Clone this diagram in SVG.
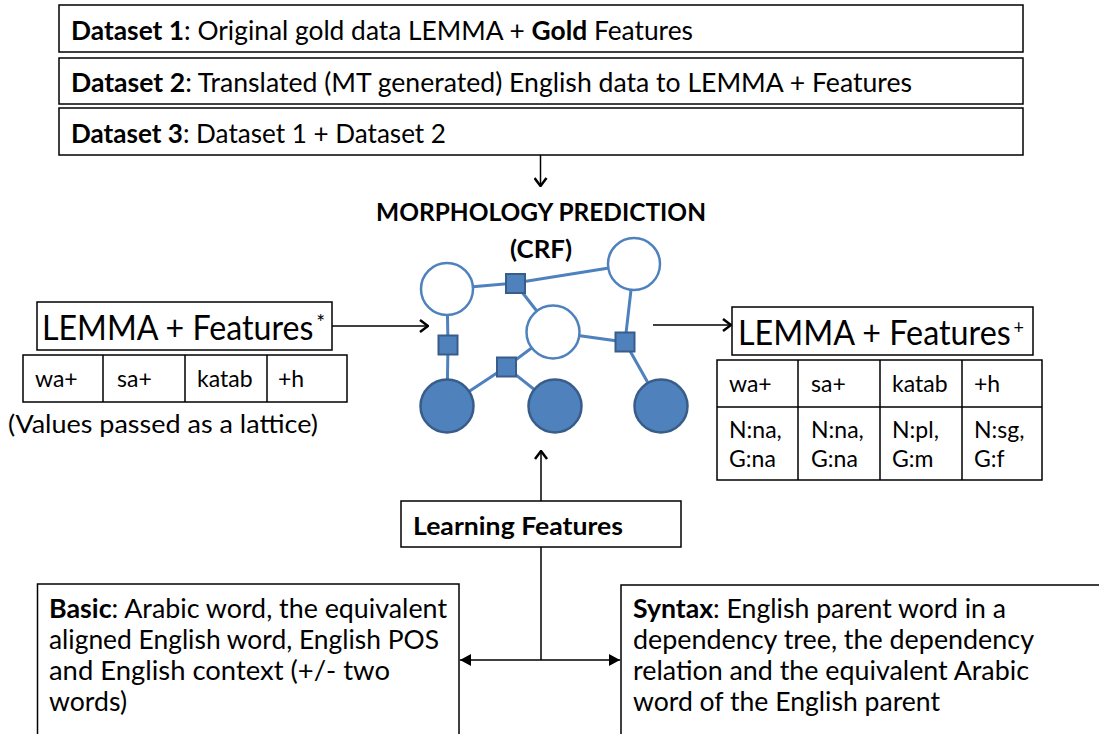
<svg xmlns="http://www.w3.org/2000/svg" width="1099" height="734" viewBox="0 0 1099 734">
<style>
.t{font-family:Lato,"Open Sans","Liberation Sans",sans-serif;fill:#000}
.b{font-weight:bold}
.box{fill:#fff;stroke:#000;stroke-width:1.5}
.ln{stroke:#000;stroke-width:1.5;fill:none}
.edge{stroke:#4F81BD;stroke-width:3;fill:none}
.open{fill:#fff;stroke:#4F81BD;stroke-width:2.5}
.full{fill:#4F81BD;stroke:#385D8A;stroke-width:2.5}
.fac{fill:#4F81BD;stroke:#385D8A;stroke-width:2}
.conn{stroke:#000;stroke-width:1.5;fill:none}
</style>
<defs>
<marker id="open" viewBox="0 0 10 14" refX="9" refY="7" markerWidth="10" markerHeight="14" markerUnits="userSpaceOnUse" orient="auto">
<path d="M1,1 L9,7 L1,13" fill="none" stroke="#000" stroke-width="2.5"/>
</marker>
<marker id="tri" viewBox="0 0 11 12" refX="11" refY="6" markerWidth="11" markerHeight="12" markerUnits="userSpaceOnUse" orient="auto">
<path d="M0,0 L11,6 L0,12 z" fill="#000"/>
</marker>
</defs>
<rect width="1099" height="734" fill="#fff"/>

<g id="dataset1">
<rect class="box" x="59" y="5" width="964" height="47"/>
<text class="t" x="71" y="40" font-size="26.5" textLength="622" lengthAdjust="spacingAndGlyphs"><tspan class="b">Dataset 1</tspan>: Original gold data LEMMA + <tspan class="b">Gold</tspan> Features</text>
</g>
<g id="dataset2">
<rect class="box" x="59" y="58" width="964" height="46"/>
<text class="t" x="71" y="92" font-size="26.5" textLength="841" lengthAdjust="spacingAndGlyphs"><tspan class="b">Dataset 2</tspan>: Translated (MT generated) English data to LEMMA + Features</text>
</g>
<g id="dataset3">
<rect class="box" x="59" y="108" width="964" height="47"/>
<text class="t" x="71" y="143" font-size="26.5" textLength="375" lengthAdjust="spacingAndGlyphs"><tspan class="b">Dataset 3</tspan>: Dataset 1 + Dataset 2</text>
</g>

<g id="crf">
<text class="t b" x="541" y="221" font-size="25" text-anchor="middle" textLength="330" lengthAdjust="spacingAndGlyphs">MORPHOLOGY PREDICTION</text>
<text class="t b" x="541" y="258" font-size="25" text-anchor="middle" textLength="62" lengthAdjust="spacingAndGlyphs">(CRF)</text>
<g id="crf-edges">
<path class="edge" d="M447,289 L515,283 L634,264"/>
<path class="edge" d="M515,283 L553,332"/>
<path class="edge" d="M447,289 L448,345 L447,406"/>
<path class="edge" d="M447,406 L506,367 L553,332"/>
<path class="edge" d="M506,367 L555,406"/>
<path class="edge" d="M553,332 L625,342 L634,264"/>
<path class="edge" d="M625,342 L661,406"/>
</g>
<circle class="open" cx="447" cy="289" r="26"/>
<circle class="open" cx="634" cy="264" r="26"/>
<circle class="open" cx="553" cy="332" r="26.5"/>
<circle class="full" cx="447" cy="406" r="26.5"/>
<circle class="full" cx="555" cy="406" r="26.5"/>
<circle class="full" cx="661" cy="406" r="26.5"/>
<rect class="fac" x="506" y="274" width="19" height="19"/>
<rect class="fac" x="438.5" y="335.5" width="19" height="19"/>
<rect class="fac" x="497" y="357.5" width="19" height="19"/>
<rect class="fac" x="615.5" y="332.5" width="19" height="19"/>
</g>

<g id="input-lemma">
<rect class="box" x="37" y="302" width="295" height="48"/>
<text class="t" x="42" y="340" font-size="34" textLength="283" lengthAdjust="spacingAndGlyphs">LEMMA + Features<tspan font-size="22" dx="3" dy="-10">*</tspan></text>
</g>
<g id="input-table">
<rect class="box" x="23" y="355" width="324" height="47"/>
<path class="ln" d="M103,355 V402 M185,355 V402 M267,355 V402"/>
<text class="t" font-size="23" y="387"><tspan x="35">wa+</tspan><tspan x="117">sa+</tspan><tspan x="197">katab</tspan><tspan x="278">+h</tspan></text>
<text class="t" x="8" y="433" font-size="25" textLength="310" lengthAdjust="spacingAndGlyphs">(Values passed as a lattice)</text>
</g>

<g id="output-lemma">
<rect class="box" x="732" y="307" width="301" height="48"/>
<text class="t" x="738" y="345" font-size="34" textLength="286" lengthAdjust="spacingAndGlyphs">LEMMA + Features<tspan font-size="19" dx="3" dy="-11">+</tspan></text>
</g>
<g id="output-table">
<rect class="box" x="717" y="360" width="325" height="120"/>
<path class="ln" d="M717,407 H1042 M798,360 V480 M880,360 V480 M962,360 V480"/>
<text class="t" font-size="23" y="392"><tspan x="729">wa+</tspan><tspan x="811">sa+</tspan><tspan x="892">katab</tspan><tspan x="974">+h</tspan></text>
<text class="t" font-size="23" y="438"><tspan x="729">N:na,</tspan><tspan x="811">N:na,</tspan><tspan x="892">N:pl,</tspan><tspan x="974">N:sg,</tspan></text>
<text class="t" font-size="23" y="467"><tspan x="729">G:na</tspan><tspan x="811">G:na</tspan><tspan x="892">G:m</tspan><tspan x="974">G:f</tspan></text>
</g>

<g id="learning-features">
<rect class="box" x="401" y="501" width="280" height="46"/>
<text class="t b" x="413" y="535" font-size="24" textLength="210" lengthAdjust="spacingAndGlyphs">Learning Features</text>
</g>

<g id="basic">
<rect class="box" x="37.5" y="584" width="421.5" height="200"/>
<text class="t" x="49" y="618" font-size="26.5" textLength="398" lengthAdjust="spacingAndGlyphs"><tspan class="b">Basic</tspan>: Arabic word, the equivalent</text>
<text class="t" x="49" y="649" font-size="26.5" textLength="390" lengthAdjust="spacingAndGlyphs">aligned English word, English POS</text>
<text class="t" x="49" y="680" font-size="26.5" textLength="341" lengthAdjust="spacingAndGlyphs">and English context (+/- two</text>
<text class="t" x="49" y="711" font-size="26.5" textLength="78" lengthAdjust="spacingAndGlyphs">words)</text>
</g>

<g id="syntax">
<rect class="box" x="621" y="585" width="500" height="200"/>
<text class="t" x="633" y="618" font-size="26.5" textLength="373" lengthAdjust="spacingAndGlyphs"><tspan class="b">Syntax</tspan>: English parent word in a</text>
<text class="t" x="633" y="649" font-size="26.5" textLength="401" lengthAdjust="spacingAndGlyphs">dependency tree, the dependency</text>
<text class="t" x="633" y="680" font-size="26.5" textLength="396" lengthAdjust="spacingAndGlyphs">relation and the equivalent Arabic</text>
<text class="t" x="633" y="711" font-size="26.5" textLength="307" lengthAdjust="spacingAndGlyphs">word of the English parent</text>
</g>

<g id="connectors">
<path class="conn" d="M540.5,155 V186" marker-end="url(#open)"/>
<path class="conn" d="M332,326 H428" marker-end="url(#open)"/>
<path class="conn" d="M653,325 H731" marker-end="url(#open)"/>
<path class="conn" d="M541,501 V451" marker-end="url(#open)"/>
<path class="conn" d="M541,547 V660"/>
<path class="conn" d="M541,660 H460" marker-end="url(#tri)"/>
<path class="conn" d="M541,660 H620" marker-end="url(#tri)"/>
</g>
</svg>
